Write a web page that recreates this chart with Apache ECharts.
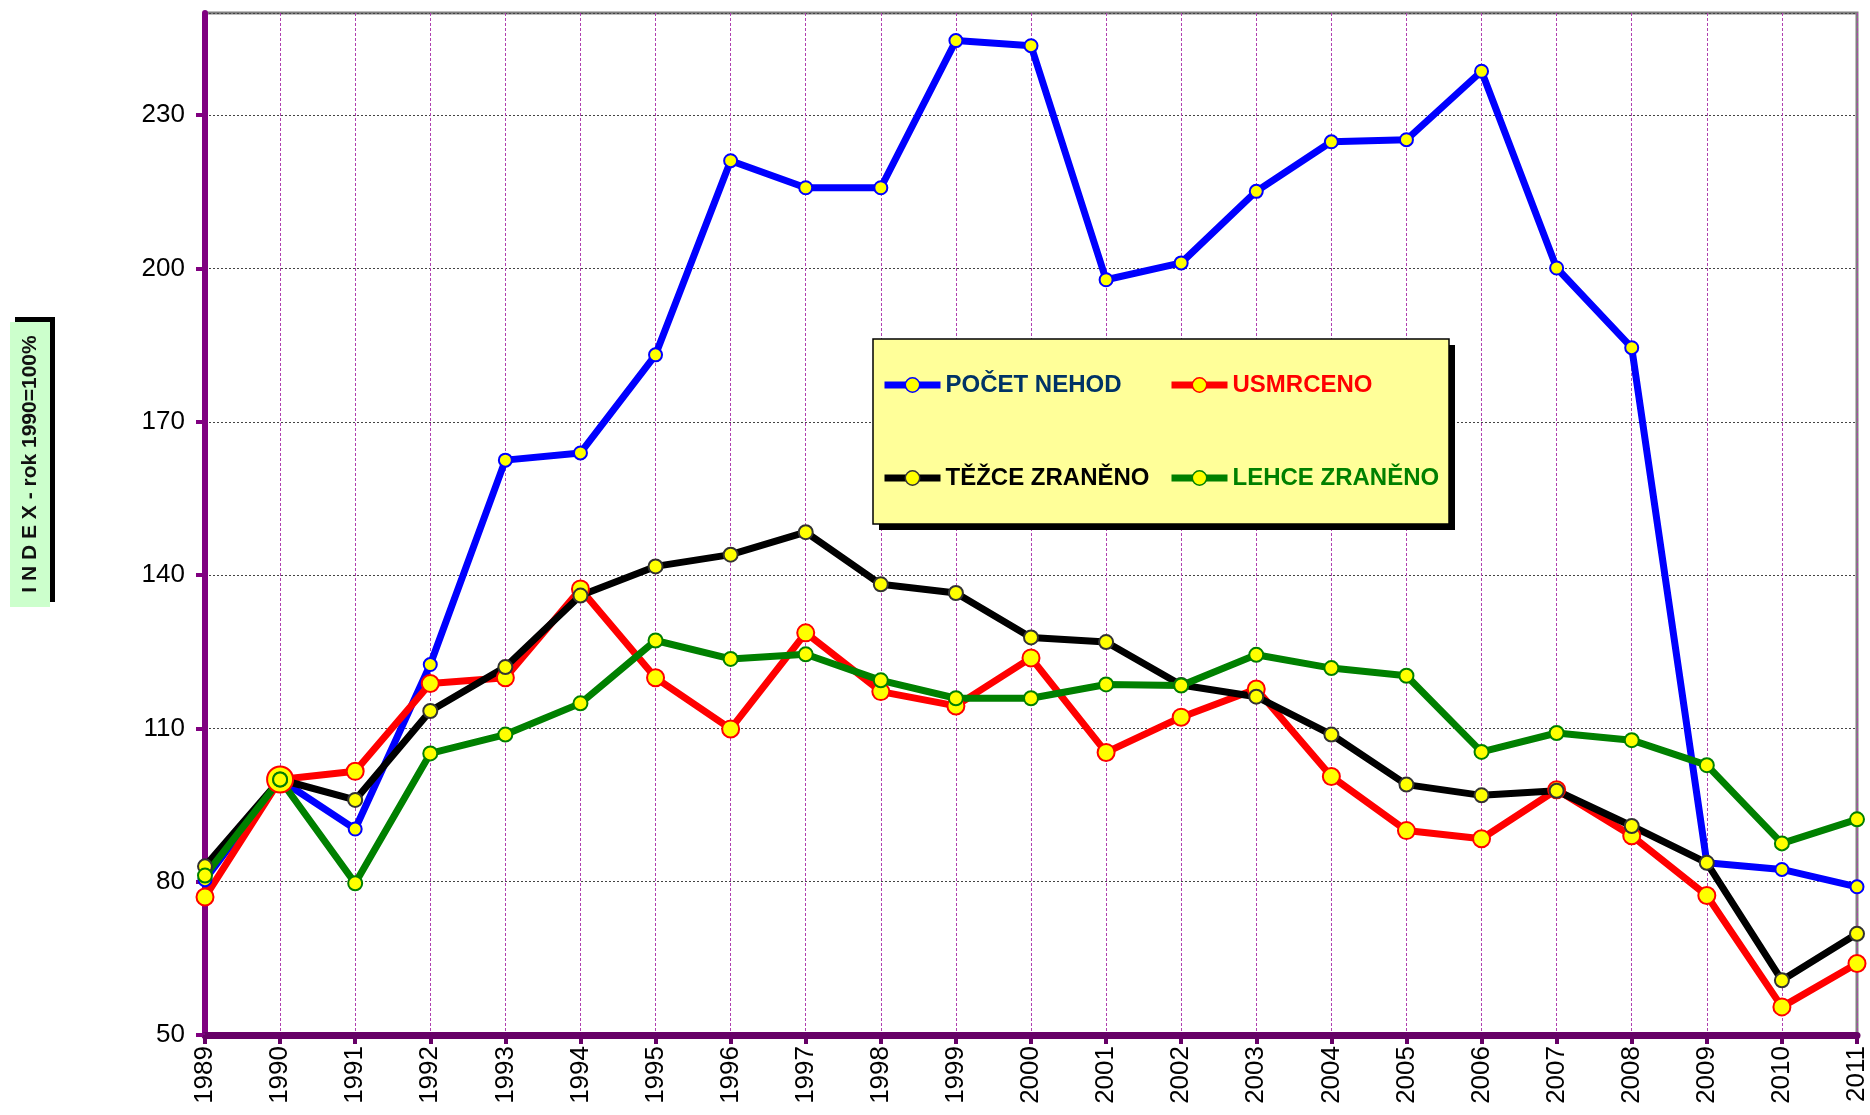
<!DOCTYPE html>
<html>
<head>
<meta charset="utf-8">
<script src="https://cdn.jsdelivr.net/npm/echarts@6/dist/echarts.min.js"></script>
<style>
  html, body { margin: 0; padding: 0; background: #fff; }
  #chart { width: 1870px; height: 1115px; }
</style>
</head>
<body>
<div id="chart"></div>
<script>
// roky (osa x)
const years = ['1989', '1990', '1991', '1992', '1993', '1994', '1995', '1996', '1997', '1998', '1999', '2000',
  '2001', '2002', '2003', '2004', '2005', '2006', '2007', '2008', '2009', '2010', '2011'];

// index, rok 1990 = 100
const pocetNehod = [80.4, 100, 90.3, 122.5, 162.5, 163.9, 183.1, 221.1, 215.8, 215.8, 244.6, 243.6,
  197.8, 201.1, 215.1, 224.8, 225.2, 238.6, 200.1, 184.5, 83.7, 82.4, 79.0];
const usmrceno = [77.0, 100, 101.6, 118.8, 119.9, 137.3, 119.9, 109.9, 128.7, 117.2, 114.4, 123.8,
  105.3, 112.2, 117.7, 100.6, 90.0, 88.4, 98.0, 89.0, 77.3, 55.5, 64.0];
const tezceZraneno = [83.0, 100, 96.0, 113.4, 122.0, 136.0, 141.7, 144.0, 148.4, 138.2, 136.5, 127.8,
  126.9, 118.5, 116.2, 108.8, 99.0, 96.9, 97.8, 90.9, 83.7, 60.7, 69.8];
const lehceZraneno = [81.2, 100, 79.7, 105.1, 108.8, 114.9, 127.2, 123.6, 124.5, 119.4, 115.9, 115.9,
  118.6, 118.4, 124.4, 121.8, 120.3, 105.4, 109.1, 107.7, 102.8, 87.5, 92.2];

const chart = echarts.init(document.getElementById('chart'));
const font = 'Liberation Sans';

// jedna rada s kolecky
const makeSeries = (name, data, color, markBorder, size, width) => ({
  name: name,
  type: 'line',
  data: data,
  symbol: 'circle',
  symbolSize: size,
  lineStyle: { color: color, width: width },
  itemStyle: { color: '#FFFF00', borderColor: markBorder, borderWidth: 2 },
  emphasis: { disabled: true },
  animation: false
});

const redSeries = makeSeries('USMRCENO', usmrceno.map((v, i) => i === 1 ? { value: v, symbolSize: 26 } : v),
  '#FF0000', '#FF0000', 17, 7);

const legendBase = {
  orient: 'vertical', top: 373, itemGap: 69, padding: 0,
  itemWidth: 56, itemHeight: 18, z: 10, selectedMode: false,
  lineStyle: { width: 7 },
  itemStyle: { borderWidth: 1.5 },
  textStyle: { fontSize: 24, fontWeight: 'bold', fontFamily: font }
};

const option = {
  backgroundColor: '#fff',
  textStyle: { fontFamily: font },
  grid: {
    left: 205, right: 10, top: 13, bottom: 80,
    show: true, borderColor: '#808080', borderWidth: 3
  },
  xAxis: {
    type: 'category',
    data: years,
    boundaryGap: false,
    axisLine: { lineStyle: { color: '#660066', width: 7 } },
    axisTick: { alignWithLabel: true, length: 9, lineStyle: { color: '#660066', width: 4 } },
    axisLabel: { rotate: 90, fontSize: 26, color: '#000', margin: 11, fontFamily: font },
    splitLine: { show: true, lineStyle: { color: '#B040B0', type: [3, 2], width: 1 } }
  },
  yAxis: {
    type: 'value',
    min: 50, max: 250, interval: 30,
    axisLine: { show: true, lineStyle: { color: '#800080', width: 6 } },
    axisTick: { show: true, length: 9, lineStyle: { color: '#800080', width: 4 } },
    axisLabel: { fontSize: 26, color: '#000', margin: 20, showMaxLabel: false, fontFamily: font },
    splitLine: { lineStyle: { color: '#444', type: [2, 2], width: 1 } }
  },
  legend: [
    Object.assign({}, legendBase, {
      left: 881,
      data: [
        { name: 'POČET NEHOD', textStyle: { color: '#003366' } },
        { name: 'TĚŽCE ZRANĚNO', textStyle: { color: '#000000' } }
      ]
    }),
    Object.assign({}, legendBase, {
      left: 1168,
      data: [
        { name: 'USMRCENO', textStyle: { color: '#FF0000' } },
        { name: 'LEHCE ZRANĚNO', textStyle: { color: '#008000' } }
      ]
    })
  ],
  graphic: [
    // popisek osy y
    { type: 'rect', shape: { x: 15, y: 317, width: 40, height: 285 }, style: { fill: '#000' }, z: 1 },
    { type: 'rect', shape: { x: 10, y: 322, width: 40, height: 285 }, style: { fill: '#CCFFCC' }, z: 2 },
    {
      type: 'text', x: 30, y: 464, rotation: Math.PI / 2, z: 3,
      style: { text: 'I N D E X - rok 1990=100%', fontSize: 21, fontWeight: 'bold', fontFamily: font,
        fill: '#111', align: 'center', verticalAlign: 'middle' }
    },
    // ramecek legendy
    { type: 'rect', shape: { x: 879, y: 345, width: 576, height: 185 }, style: { fill: '#000' }, z: 5 },
    { type: 'rect', shape: { x: 873, y: 339, width: 576, height: 185 },
      style: { fill: '#FFFF99', stroke: '#000', lineWidth: 1.5 }, z: 6 }
  ],
  series: [
    makeSeries('POČET NEHOD', pocetNehod, '#0000FF', '#0000FF', 13, 7),
    redSeries,
    makeSeries('TĚŽCE ZRANĚNO', tezceZraneno, '#000000', '#333333', 14, 7),
    makeSeries('LEHCE ZRANĚNO', lehceZraneno, '#008000', '#008000', 14, 7)
  ]
};

chart.setOption(option);
</script>
</body>
</html>
